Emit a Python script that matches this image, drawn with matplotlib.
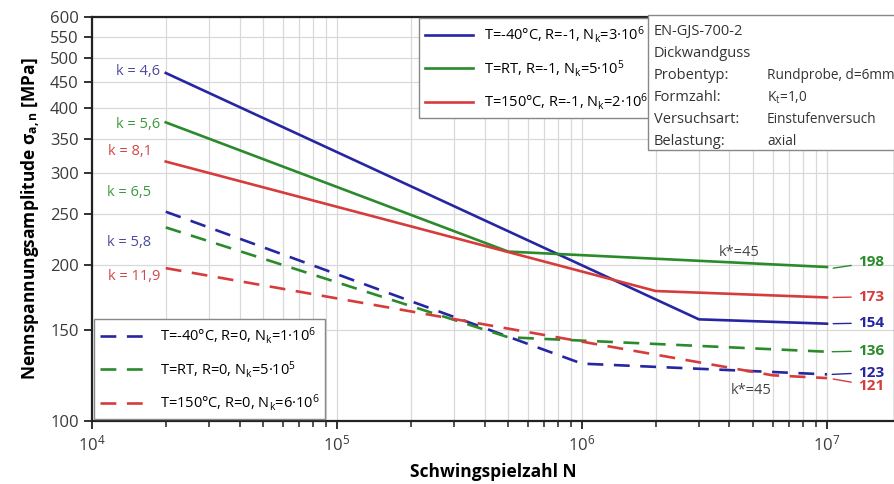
import matplotlib
matplotlib.use('Agg')
import matplotlib.pyplot as plt
from matplotlib.patches import Rectangle
from matplotlib.ticker import FixedLocator, NullFormatter, LogLocator

plt.rcParams['font.family'] = ['Open Sans', 'DejaVu Sans']
plt.rcParams['mathtext.fontset'] = 'custom'
plt.rcParams['mathtext.rm'] = 'Open Sans'
plt.rcParams['mathtext.it'] = 'Open Sans:italic'
plt.rcParams['mathtext.bf'] = 'Open Sans:bold'

# data (N = load cycles, S = stress amplitude in MPa)
n_blue_r1 = [2e4, 3e6, 1e7]
s_blue_r1 = [468, 157, 154]
n_green_r1 = [2e4, 5e5, 1e7]
s_green_r1 = [376, 212, 198]
n_red_r1 = [2e4, 2e6, 1e7]
s_red_r1 = [316, 178, 173]

n_blue_r0 = [2e4, 1e6, 1e7]
s_blue_r0 = [253, 129, 123]
n_green_r0 = [2e4, 5e5, 1e7]
s_green_r0 = [236, 145, 136]
n_red_r0 = [2e4, 6e6, 1e7]
s_red_r0 = [197, 122.5, 121]

labels_r1 = ['T=-40°C, R=-1, N$_\\mathrm{k}$=3·10$^6$',
             'T=RT, R=-1, N$_\\mathrm{k}$=5·10$^5$',
             'T=150°C, R=-1, N$_\\mathrm{k}$=2·10$^6$']
labels_r0 = ['T=-40°C, R=0, N$_\\mathrm{k}$=1·10$^6$',
             'T=RT, R=0, N$_\\mathrm{k}$=5·10$^5$',
             'T=150°C, R=0, N$_\\mathrm{k}$=6·10$^6$']

k_texts = ['k = 4,6', 'k = 5,6', 'k = 8,1', 'k = 6,5', 'k = 5,8', 'k = 11,9']
k_pos = [(1.9e4, 472), (1.9e4, 372), (1.75e4, 330), (1.75e4, 275), (1.75e4, 221), (1.9e4, 190)]

end_values = [198, 173, 154, 136, 123, 121]

info_left = ['EN-GJS-700-2', 'Dickwandguss', 'Probentyp:', 'Formzahl:', 'Versuchsart:', 'Belastung:']
info_right = ['', '', 'Rundprobe, d=6mm', 'K$_\\mathrm{t}$=1,0', 'Einstufenversuch', 'axial']

y_ticks = [100, 150, 200, 250, 300, 350, 400, 450, 500, 550, 600]

blue = '#2626a2'
green = '#2b8a2b'
red = '#d63c3c'
k_cols = ['#4b4b9e', '#3a9a3a', '#cf4747', '#3a9a3a', '#4b4b9e', '#cf4747']
end_cols = [green, red, blue, green, blue, red]

fig = plt.figure(figsize=(8.95, 4.84), dpi=100)
ax = fig.add_axes([0.1028, 0.130, 0.8972, 0.835])
ax.set_xscale('log')
ax.set_yscale('log')
ax.set_xlim(1e4, 10 ** 7.2776)
ax.set_ylim(100, 600)

lw = 1.9
h1 = []
h1 += ax.plot(n_blue_r1, s_blue_r1, color=blue, lw=lw)
h1 += ax.plot(n_green_r1, s_green_r1, color=green, lw=lw)
h1 += ax.plot(n_red_r1, s_red_r1, color=red, lw=lw)
h0 = []
h0 += ax.plot(n_blue_r0, s_blue_r0, color=blue, lw=lw, dashes=(6, 4))
h0 += ax.plot(n_green_r0, s_green_r0, color=green, lw=lw, dashes=(6, 4))
h0 += ax.plot(n_red_r0, s_red_r0, color=red, lw=lw, dashes=(6, 4))

# axes styling
ax.yaxis.set_major_locator(FixedLocator(y_ticks))
ax.yaxis.set_major_formatter(plt.FixedFormatter([str(v) for v in y_ticks]))
ax.yaxis.set_minor_locator(FixedLocator([]))
ax.xaxis.set_major_locator(LogLocator(base=10))
ax.xaxis.set_minor_locator(LogLocator(base=10, subs=range(2, 10)))
ax.xaxis.set_minor_formatter(NullFormatter())
ax.grid(True, which='both', color='#d9d9d9', lw=0.9)
ax.set_axisbelow(True)
ax.tick_params(axis='both', which='major', labelsize=12, labelcolor='#3a3a3a',
               color='#222222', width=1.3, length=6)
ax.tick_params(axis='x', which='minor', color='#222222', width=1.1, length=4)
for sp in ax.spines.values():
    sp.set_color('#222222')
    sp.set_linewidth(1.6)

ax.set_xlabel('Schwingspielzahl N', fontsize=12.5, fontweight='bold', labelpad=6)
ax.set_ylabel('Nennspannungsamplitude σ$_\\mathbf{a,n}$ [MPa]', fontsize=12.5,
              fontweight='bold', labelpad=5)

# legends
leg1 = ax.legend(h1, labels_r1, loc='upper left', bbox_to_anchor=(0.405, 1.0),
                 fontsize=10.5, fancybox=False, edgecolor='#888888', framealpha=1,
                 handlelength=3.3, borderaxespad=0.1, labelspacing=0.85)
leg1.get_frame().set_linewidth(1.0)
ax.add_artist(leg1)
leg0 = ax.legend(h0, labels_r0, loc='lower left', bbox_to_anchor=(0.0, 0.0),
                 fontsize=10.5, fancybox=False, edgecolor='#888888', framealpha=1,
                 handlelength=3.3, borderaxespad=0.15, labelspacing=0.85)
leg0.get_frame().set_linewidth(1.0)

# info box
box = Rectangle((0.6925, 0.671), 0.35, 0.334, transform=ax.transAxes, facecolor='white',
                edgecolor='#888888', lw=1.0, zorder=5, clip_on=False)
ax.add_patch(box)
for i in range(len(info_left)):
    yy = 0.964 - i * 0.0545
    ax.text(0.7, yy, info_left[i], transform=ax.transAxes, fontsize=10.5,
            color='#333333', va='center', zorder=6)
    ax.text(0.8405, yy, info_right[i], transform=ax.transAxes, fontsize=9.8,
            color='#333333', va='center', zorder=6)

# slope labels
for t, p, c in zip(k_texts, k_pos, k_cols):
    ax.text(p[0], p[1], t, color=c, fontsize=10.5, ha='right', va='center')
ax.text(4.4e6, 211, 'k*=45', color='#444444', fontsize=10.5, ha='center', va='center')
ax.text(4.9e6, 114.5, 'k*=45', color='#444444', fontsize=10.5, ha='center', va='center')

# end values with leader lines
end_anchor = [(1.06e7, 197), (1.06e7, 173), (1.06e7, 154),
              (1.05e7, 136), (1.05e7, 123), (1.06e7, 120.5)]
end_text = [(1.34e7, 202), (1.34e7, 173.5), (1.34e7, 154.5),
            (1.34e7, 136.5), (1.34e7, 124), (1.34e7, 117)]
for v, a, tp, c in zip(end_values, end_anchor, end_text, end_cols):
    ax.annotate(str(v), xy=a, xytext=tp, color=c, fontsize=11, fontweight='bold',
                ha='left', va='center',
                arrowprops=dict(arrowstyle='-', color=c, lw=1.0, shrinkA=3, shrinkB=0))

fig.savefig('out.png', dpi=100)
